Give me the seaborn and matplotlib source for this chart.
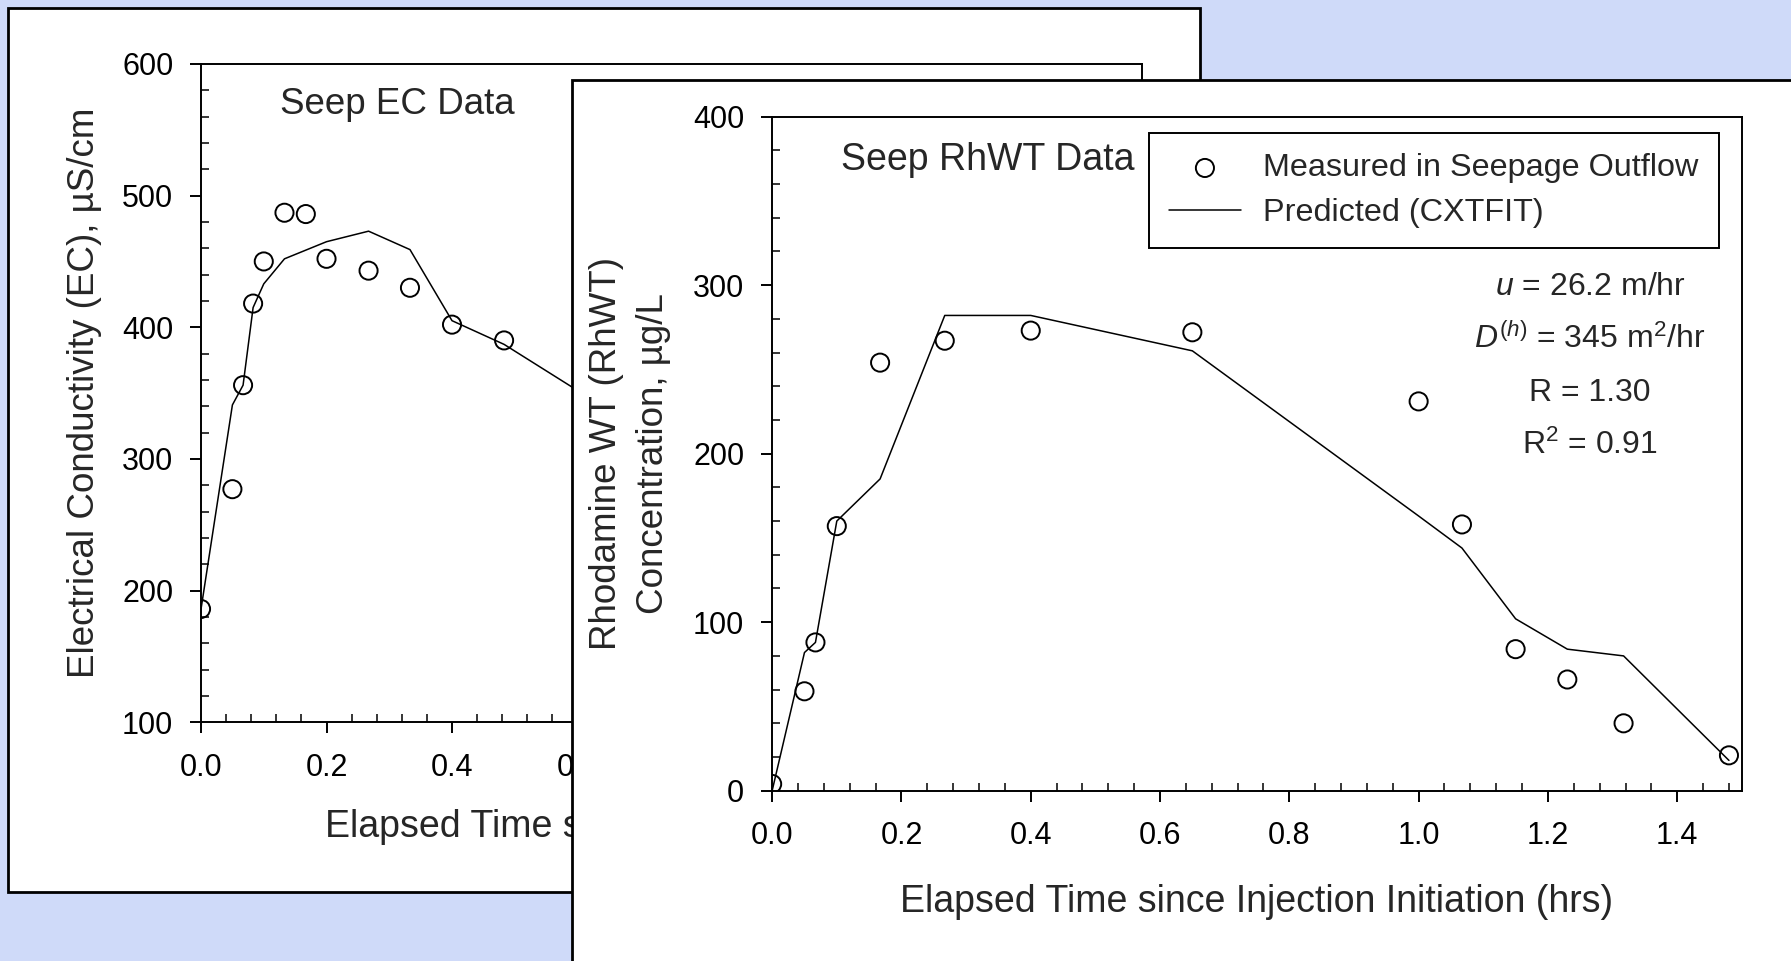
import matplotlib.pyplot as plt
import matplotlib.ticker as mticker
from matplotlib.patches import Rectangle
import seaborn as sns
import pandas as pd

# seep EC data (left chart, partly hidden behind the right one)
ec_time = [0, 0.05, 0.067, 0.083, 0.1, 0.133, 0.167, 0.2, 0.267, 0.333, 0.4, 0.483]
ec_meas = [186, 277, 356, 418, 450, 487, 486, 452, 443, 430, 402, 390]
ec_fit_time = [0, 0.05, 0.067, 0.083, 0.1, 0.133, 0.2, 0.267, 0.333, 0.4, 0.483, 0.65]
ec_fit = [186, 341, 356, 415, 433, 452, 465, 473, 459, 405, 387, 337]
ec_xticks = [0.0, 0.2, 0.4, 0.6]

# seep rhodamine WT data (right chart)
rh_time = [0, 0.05, 0.067, 0.1, 0.167, 0.267, 0.4, 0.65, 1.0, 1.067, 1.15, 1.23, 1.317, 1.48]
rh_meas = [4, 59, 88, 157, 254, 267, 273, 272, 231, 158, 84, 66, 40, 21]
rh_fit_time = [0, 0.05, 0.067, 0.1, 0.167, 0.267, 0.4, 0.65, 1.0, 1.067, 1.15, 1.23, 1.317, 1.48]
rh_fit = [0, 82, 88, 160, 185, 282, 282, 261, 163, 144, 102, 84, 80, 18]

fit_params = ["$u$ = 26.2 m/hr", "$D^{(h)}$ = 345 m$^2$/hr", "R = 1.30", "R$^2$ = 0.91"]

x_label = "Elapsed Time since Injection Initiation (hrs)"

sns.set_theme(style="ticks")
plt.rcParams["font.family"] = ["Liberation Sans", "DejaVu Sans"]
plt.rcParams["mathtext.fontset"] = "custom"
plt.rcParams["mathtext.rm"] = "Liberation Sans"
plt.rcParams["mathtext.it"] = "Liberation Sans:italic"
plt.rcParams["mathtext.bf"] = "Liberation Sans:bold"

W, H = 1568, 841


def fx(x):
    return x / W


def fy(y):
    return 1 - y / H


def style_axes(ax, ystep):
    for spine in ax.spines.values():
        spine.set_linewidth(1.4)
        spine.set_color("black")
    ax.set_xlim(0, 1.5)
    ax.xaxis.set_major_locator(mticker.MultipleLocator(0.2))
    ax.xaxis.set_minor_locator(mticker.MultipleLocator(0.04))
    ax.xaxis.set_major_formatter(mticker.FormatStrFormatter("%.1f"))
    ax.yaxis.set_major_locator(mticker.MultipleLocator(ystep))
    ax.yaxis.set_minor_locator(mticker.MultipleLocator(ystep / 5))
    ax.tick_params(which="major", direction="out", length=8, width=1.4,
                   labelsize=22, colors="black", top=False, right=False)
    ax.tick_params(axis="x", which="major", pad=14)
    ax.tick_params(axis="y", which="major", pad=12)
    ax.tick_params(which="minor", direction="in", length=6, width=1.1,
                   top=False, right=False, color="black")
    ax.grid(False)


fig = plt.figure(figsize=(17.91, 9.61), dpi=100)
fig.patch.set_facecolor("#CFDAF9")

# back panel + EC chart
fig.add_artist(Rectangle((fx(7), fy(781)), (1051 - 7) / W, (781 - 7) / H,
                         transform=fig.transFigure, facecolor="white",
                         edgecolor="black", linewidth=2, zorder=0))
ax1 = fig.add_axes([fx(176), fy(632), (1000 - 176) / W, (632 - 56) / H])
ax1.set_zorder(1)
ax1.patch.set_alpha(0)

ec_df = pd.DataFrame({"time": ec_time, "ec": ec_meas})
ec_fit_df = pd.DataFrame({"time": ec_fit_time, "ec": ec_fit})
sns.scatterplot(data=ec_df, x="time", y="ec", ax=ax1, marker="o", s=170,
                facecolors="none", edgecolor="black", linewidth=1.4, zorder=3)
sns.lineplot(data=ec_fit_df, x="time", y="ec", ax=ax1, color="black",
             linewidth=1.1, estimator=None, zorder=2)
style_axes(ax1, 100)
# only the ticks left of the front panel can be seen
ax1.xaxis.set_major_locator(mticker.FixedLocator(ec_xticks))
ax1.xaxis.set_minor_locator(mticker.FixedLocator(
    [t for t in [i * 0.04 for i in range(1, 17)] if round(t / 0.2, 6) % 1]))
ax1.set_ylim(100, 600)
ax1.set_xlabel(x_label, fontsize=27)
ax1.set_ylabel("Electrical Conductivity (EC), µS/cm", fontsize=26.5)
ax1.xaxis.label.set_verticalalignment("center")
ax1.yaxis.label.set_verticalalignment("center")
ax1.xaxis.set_label_coords(0.511, -0.16)
ax1.yaxis.set_label_coords(-0.124, 0.5)
ax1.text(0.209, 0.939, "Seep EC Data", transform=ax1.transAxes,
         ha="center", va="center", fontsize=26.5)

# front panel + RhWT chart
fig.add_artist(Rectangle((fx(501), -0.05), 1.0, fy(70) + 0.05,
                         transform=fig.transFigure, facecolor="white",
                         edgecolor="black", linewidth=2, zorder=2))
ax2 = fig.add_axes([fx(676), fy(692), (1525 - 676) / W, (692 - 102) / H])
ax2.set_zorder(3)
ax2.patch.set_alpha(0)

rh_df = pd.DataFrame({"time": rh_time, "conc": rh_meas})
rh_fit_df = pd.DataFrame({"time": rh_fit_time, "conc": rh_fit})
sns.scatterplot(data=rh_df, x="time", y="conc", ax=ax2, marker="o", s=170,
                facecolors="none", edgecolor="black", linewidth=1.4, zorder=3,
                label="Measured in Seepage Outflow")
sns.lineplot(data=rh_fit_df, x="time", y="conc", ax=ax2, color="black",
             linewidth=1.1, estimator=None, zorder=2, label="Predicted (CXTFIT)")
style_axes(ax2, 100)
ax2.set_ylim(0, 400)
ax2.set_xlabel(x_label, fontsize=27)
ax2.set_ylabel("Rhodamine WT (RhWT)\nConcentration, µg/L", fontsize=26.5,
               linespacing=1.45)
ax2.xaxis.label.set_verticalalignment("center")
ax2.yaxis.label.set_verticalalignment("center")
ax2.xaxis.set_label_coords(0.5, -0.1644)
ax2.yaxis.set_label_coords(-0.147, 0.5)
ax2.text(0.2226, 0.9356, "Seep RhWT Data", transform=ax2.transAxes,
         ha="center", va="center", fontsize=27)

for txt, ypos in zip(fit_params, [0.7475, 0.6695, 0.5898, 0.5119]):
    ax2.text(0.8433, ypos, txt, transform=ax2.transAxes, ha="center",
             va="center", fontsize=23)

handles, labels = ax2.get_legend_handles_labels()
leg = ax2.legend(handles, labels, loc="upper right", bbox_to_anchor=(0.976, 0.975),
                 borderaxespad=0, fontsize=23.3, frameon=True, fancybox=False,
                 framealpha=1, edgecolor="black", handlelength=2.2,
                 handletextpad=0.7, borderpad=0.62, labelspacing=0.45,
                 scatterpoints=1)
leg.get_frame().set_linewidth(1.4)

fig.savefig("out.png", dpi=100, facecolor=fig.get_facecolor())
